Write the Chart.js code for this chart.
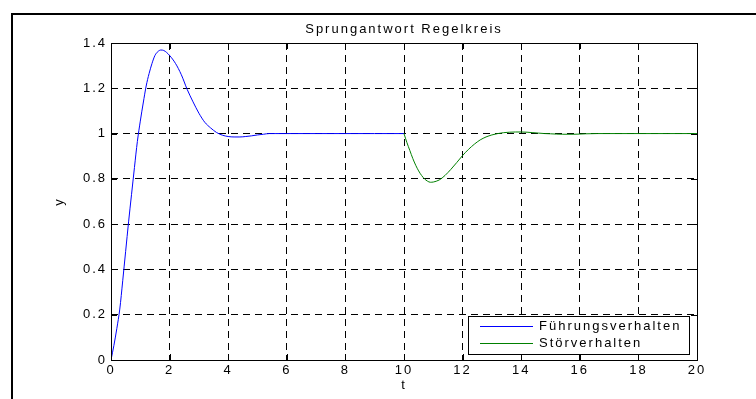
<!DOCTYPE html>
<html>
<head>
<meta charset="utf-8">
<script src="https://cdn.jsdelivr.net/npm/chart.js@4/dist/chart.umd.min.js"></script>
<style>
  html, body { margin: 0; padding: 0; background: #fff; }
  canvas { display: block; }
</style>
</head>
<body>
<canvas id="c" width="756" height="399" style="width:756px;height:399px"></canvas>
<script>
// Reference step (Führungsverhalten), 0 .. 10 s
const tFuehrung = [0, 0.1, 0.2, 0.3, 0.4, 0.5, 0.6, 0.7, 0.8, 0.9, 1.0, 1.1, 1.2, 1.3, 1.4, 1.5, 1.6, 1.7, 1.8, 1.9, 2.0,
  2.2, 2.4, 2.6, 2.8, 3.0, 3.2, 3.4, 3.6, 3.8, 4.0, 4.2, 4.4, 4.6, 4.8, 5.0, 5.2, 5.4, 5.6, 6, 7, 8, 9, 10];
const yFuehrung = [0, 0.065, 0.14, 0.225, 0.35, 0.48, 0.61, 0.73, 0.85, 0.965, 1.055, 1.135, 1.21, 1.265, 1.31, 1.345, 1.362, 1.369, 1.367, 1.358, 1.345,
  1.31, 1.26, 1.195, 1.14, 1.09, 1.05, 1.025, 1.005, 0.993, 0.987, 0.985, 0.985, 0.987, 0.99, 0.994, 0.997, 1.0, 1.0, 1.0, 1.0, 1.0, 1.0, 1.0];

// Disturbance step (Störverhalten), 10 .. 20 s
const tStoer = [10, 10.1, 10.2, 10.3, 10.4, 10.5, 10.6, 10.7, 10.8, 10.9, 11.0, 11.2, 11.4, 11.6, 11.8, 12.0, 12.2, 12.4, 12.6, 12.8,
  13.0, 13.2, 13.4, 13.6, 13.8, 14.0, 14.2, 14.4, 14.6, 14.8, 15.0, 15.4, 15.8, 16.2, 16.6, 17, 18, 19, 20];
const yStoer = [1.0, 0.96, 0.925, 0.89, 0.86, 0.835, 0.815, 0.8, 0.79, 0.785, 0.786, 0.795, 0.815, 0.842, 0.872, 0.903, 0.93, 0.953, 0.972, 0.985,
  0.994, 1.0, 1.004, 1.006, 1.007, 1.007, 1.006, 1.004, 1.002, 1.0, 0.999, 0.997, 0.997, 0.999, 1.0, 1.0, 1.0, 1.0, 1.0];

const xTickValues = [0, 2, 4, 6, 8, 10, 12, 14, 16, 18, 20];
const xTickLabels = ['0', '2', '4', '6', '8', '10', '12', '14', '16', '18', '20'];
const yTickValues = [0, 0.2, 0.4, 0.6, 0.8, 1.0, 1.2, 1.4];
const yTickLabels = ['0', '0.2', '0.4', '0.6', '0.8', '1', '1.2', '1.4'];

const FONT = 'Liberation Sans, Arial, Helvetica, sans-serif';
const SPACING = '2px';

const toPoints = (ts, ys) => ts.map((t, i) => ({ x: t, y: ys[i] }));

// Wide letter spacing for every text drawn on the canvas
const spacingPlugin = {
  id: 'spacing',
  beforeUpdate(chart) { chart.ctx.letterSpacing = SPACING; },
  beforeDraw(chart) { chart.ctx.letterSpacing = SPACING; }
};

// Axes box, inward tick marks, outer figure frame and legend
const framePlugin = {
  id: 'frame',
  afterDraw(chart) {
    const ctx = chart.ctx;
    const a = chart.chartArea;
    const xs = chart.scales.x, ys = chart.scales.y;
    ctx.save();
    ctx.setLineDash([]);
    ctx.strokeStyle = '#000';
    ctx.lineWidth = 1;
    // axes box
    ctx.strokeRect(Math.round(a.left) + 0.5, Math.round(a.top) + 0.5,
      Math.round(a.right - a.left), Math.round(a.bottom - a.top));
    // tick marks pointing inwards
    const tl = 6;
    ctx.beginPath();
    xTickValues.forEach(v => {
      const px = Math.round(xs.getPixelForValue(v)) + 0.5;
      ctx.moveTo(px, a.bottom); ctx.lineTo(px, a.bottom - tl);
      ctx.moveTo(px, a.top); ctx.lineTo(px, a.top + tl);
    });
    yTickValues.forEach(v => {
      const py = Math.round(ys.getPixelForValue(v)) + 0.5;
      ctx.moveTo(a.left, py); ctx.lineTo(a.left + tl, py);
      ctx.moveTo(a.right, py); ctx.lineTo(a.right - tl, py);
    });
    ctx.stroke();
    // figure frame
    ctx.lineWidth = 2;
    ctx.strokeRect(12, 14, 800, 500);

    // legend
    const bx = 468, by = 316, bw = 221, bh = 38;
    ctx.fillStyle = '#fff';
    ctx.fillRect(bx, by, bw, bh);
    ctx.lineWidth = 1;
    ctx.strokeStyle = '#000';
    ctx.strokeRect(bx + 0.5, by + 0.5, bw, bh);
    ctx.font = '13px ' + FONT;
    ctx.textBaseline = 'middle';
    ctx.textAlign = 'left';
    ctx.letterSpacing = SPACING;
    chart.data.datasets.forEach((ds, i) => {
      const rowY = by + 10.5 + i * 17;
      ctx.strokeStyle = ds.borderColor;
      ctx.beginPath();
      ctx.moveTo(480, rowY); ctx.lineTo(533, rowY);
      ctx.stroke();
      ctx.fillStyle = '#000';
      ctx.fillText(ds.label, 539, rowY);
    });
    ctx.restore();
  }
};

new Chart(document.getElementById('c'), {
  type: 'line',
  data: {
    datasets: [
      {
        label: 'Führungsverhalten',
        data: toPoints(tFuehrung, yFuehrung),
        borderColor: 'rgb(0,0,255)',
        borderWidth: 1,
        pointRadius: 0,
        cubicInterpolationMode: 'monotone',
        order: 1
      },
      {
        label: 'Störverhalten',
        data: toPoints(tStoer, yStoer),
        borderColor: 'rgb(0,128,0)',
        borderWidth: 1,
        pointRadius: 0,
        cubicInterpolationMode: 'monotone',
        order: 0
      }
    ]
  },
  options: {
    responsive: false,
    animation: false,
    devicePixelRatio: 1,
    layout: { padding: { left: 0, right: 59, top: 0, bottom: 0 } },
    plugins: {
      legend: { display: false },
      tooltip: { enabled: false },
      title: {
        display: true,
        fullSize: false,
        text: 'Sprungantwort Regelkreis',
        color: '#000',
        font: { family: FONT, size: 13, weight: 'normal' },
        padding: { top: 22, bottom: 5.4 }
      }
    },
    scales: {
      x: {
        type: 'linear',
        min: 0, max: 20,
        afterBuildTicks(s) { s.ticks = xTickValues.map(v => ({ value: v })); },
        afterFit(s) { s.height = 39; },
        ticks: {
          color: '#000',
          font: { family: FONT, size: 13 },
          padding: 3,
          maxRotation: 0,
          autoSkip: false,
          callback: (v, i) => xTickLabels[i]
        },
        grid: { color: '#000', lineWidth: 1, drawTicks: false },
        border: { display: false, dash: [7, 5] },
        title: {
          display: true, text: 't', color: '#000',
          font: { family: FONT, size: 13 },
          padding: { top: 0, bottom: 6.2 }
        }
      },
      y: {
        type: 'linear',
        min: 0, max: 1.4,
        afterBuildTicks(s) { s.ticks = yTickValues.map(v => ({ value: v })); },
        afterFit(s) { s.width = 111; },
        ticks: {
          color: '#000',
          font: { family: FONT, size: 13 },
          padding: 4,
          autoSkip: false,
          callback: (v, i) => yTickLabels[i]
        },
        grid: { color: '#000', lineWidth: 1, drawTicks: false },
        border: { display: false, dash: [7, 5] },
        title: {
          display: true, text: 'y', color: '#000',
          font: { family: FONT, size: 13 },
          padding: { top: 52, bottom: 0 }
        }
      }
    }
  },
  plugins: [spacingPlugin, framePlugin]
});
</script>
</body>
</html>
